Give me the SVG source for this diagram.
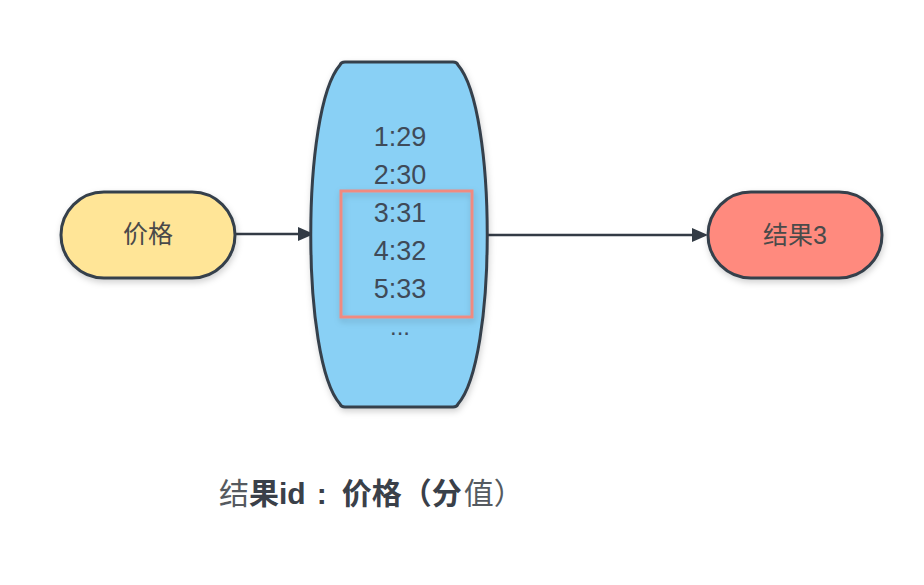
<svg xmlns="http://www.w3.org/2000/svg" width="924" height="585" viewBox="0 0 924 585">
<style>
.node{stroke:#36404c;stroke-width:3}
.lbl{font-family:"Liberation Sans","Noto Sans CJK SC",sans-serif;fill:#3f4a58;text-anchor:middle}
.edge{stroke:#333b45;stroke-width:2.5;fill:none}
</style>
<defs>
<filter id="sh" x="-20%" y="-20%" width="140%" height="140%">
<feDropShadow dx="1" dy="3" stdDeviation="3" flood-color="#000" flood-opacity="0.18"/>
</filter>
</defs>
<rect width="924" height="585" fill="#ffffff"/>
<g id="connectors">
<line class="edge" x1="235" y1="234" x2="300" y2="234"/>
<path d="M298,227 L314,234 L298,241 Z" fill="#333b45"/>
<line class="edge" x1="473" y1="235" x2="694" y2="235"/>
<path d="M692,228 L708,235 L692,242 Z" fill="#333b45"/>
</g>
<g id="price">
<rect class="node" x="61" y="192" width="174" height="86" rx="43" fill="#ffe597" filter="url(#sh)"/>
<text class="lbl" x="148" y="243" font-size="25" style="fill:#4a4a4a">价格</text>
</g>
<g id="list">
<path class="node" d="M345,62 L453,62 Q457,62 458,65 C497,110 497,360 458,404 Q457,407 453,407 L345,407 Q341,407 340,404 C301,360 301,110 340,65 Q341,62 345,62 Z" fill="#89d0f5" filter="url(#sh)"/>
<rect x="341" y="191" width="131" height="126" fill="none" stroke="#f08a80" stroke-width="3" filter="url(#sh)"/>
<text class="lbl" x="400" y="146" font-size="27">1:29</text>
<text class="lbl" x="400" y="184" font-size="27">2:30</text>
<text class="lbl" x="400" y="222" font-size="27">3:31</text>
<text class="lbl" x="400" y="260" font-size="27">4:32</text>
<text class="lbl" x="400" y="298" font-size="27">5:33</text>
<text class="lbl" x="400" y="335" font-size="24">...</text>
</g>
<g id="result">
<rect class="node" x="708" y="192" width="174" height="86" rx="43" fill="#ff8a7e" filter="url(#sh)"/>
<text class="lbl" x="795" y="244" font-size="25" style="fill:#4a4a4a">结果3</text>
</g>
<g id="caption">
<text x="219" y="504" font-size="30" font-family="Liberation Sans,'Noto Sans CJK SC',sans-serif" fill="#555a60"><tspan>结</tspan><tspan font-weight="bold" fill="#3a4049">果id<tspan dx="11">:</tspan><tspan dx="15">价格（分</tspan></tspan><tspan dx="2">值）</tspan></text>
</g>
</svg>
